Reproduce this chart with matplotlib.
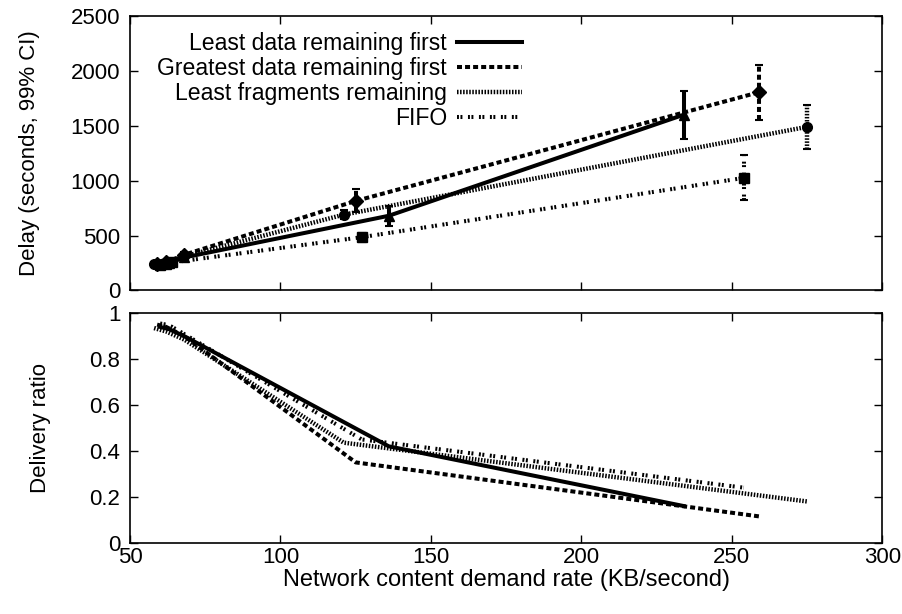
import matplotlib
matplotlib.use("Agg")
import matplotlib.pyplot as plt
from matplotlib.lines import Line2D

plt.rcParams['font.family'] = ['Liberation Sans', 'DejaVu Sans']
plt.rcParams['font.size'] = 16
plt.rcParams['lines.scale_dashes'] = False

names = ["Least data remaining first", "Greatest data remaining first",
         "Least fragments remaining", "FIFO"]

# demand rate (KB/s) for each scheduling policy
rate_least = [60, 63, 68, 136, 234]
rate_great = [59, 62, 68, 125, 259]
rate_frag = [58, 62, 68, 121, 275]
rate_fifo = [60, 62, 64, 127, 254]

# delay (s) and 99% CI half widths
delay_least = [245, 250, 300, 680, 1600]
err_least = [15, 15, 20, 90, 220]
delay_great = [240, 255, 325, 815, 1805]
err_great = [15, 15, 25, 105, 250]
delay_frag = [240, 250, 310, 690, 1490]
err_frag = [15, 15, 20, 40, 200]
delay_fifo = [230, 240, 255, 485, 1025]
err_fifo = [15, 15, 15, 40, 205]

# delivery ratio
ratio_least = [0.94, 0.93, 0.90, 0.42, 0.16]
ratio_great = [0.95, 0.94, 0.90, 0.35, 0.115]
ratio_frag = [0.935, 0.92, 0.885, 0.436, 0.18]
ratio_fifo = [0.955, 0.95, 0.94, 0.45, 0.24]

styles = [
    dict(ls='-', lw=2.9, marker='^', ms=7),
    dict(ls=(0, (3.6, 2.2)), lw=2.9, marker='D', ms=7),
    dict(ls=(0, (1.1, 1.1)), lw=3.2, marker='o', ms=7),
    dict(ls=(0, (1.4, 1.1, 1.4, 4.0)), lw=2.9, marker='s', ms=7),
]

fig = plt.figure(figsize=(9.03, 6.14), dpi=100)
ax1 = fig.add_axes([0.144, 0.527, 0.833, 0.447])
ax2 = fig.add_axes([0.144, 0.116, 0.833, 0.374])

series = [
    (rate_least, delay_least, err_least, ratio_least),
    (rate_great, delay_great, err_great, ratio_great),
    (rate_frag, delay_frag, err_frag, ratio_frag),
    (rate_fifo, delay_fifo, err_fifo, ratio_fifo),
]

for (x, d, e, r), st, name in zip(series, styles, names):
    eb = ax1.errorbar(x, d, yerr=e, color='black', ls=st['ls'], lw=st['lw'],
                      marker=st['marker'], ms=st['ms'], capsize=3,
                      elinewidth=st['lw'], capthick=1.5, label=name)
    eb[2][0].set_linestyle(st['ls'])
    ax2.plot(x, r, color='black', ls=st['ls'], lw=st['lw'])

for ax in (ax1, ax2):
    ax.set_xlim(50, 300)
    ax.set_xticks([50, 100, 150, 200, 250, 300])
    ax.tick_params(direction='in', length=6, top=True, right=True, width=1, pad=7)
    ax.tick_params(axis='x', pad=3)
    for s in ax.spines.values():
        s.set_linewidth(1.2)

ax1.set_ylim(0, 2500)
ax1.set_yticks([0, 500, 1000, 1500, 2000, 2500])
ax1.tick_params(labelbottom=False)
ax1.set_ylabel("Delay (seconds, 99% CI)")
ax1.yaxis.set_label_coords(-0.12, 0.5)

ax2.set_ylim(0, 1)
ax2.set_yticks([0, 0.2, 0.4, 0.6, 0.8, 1])
ax2.set_yticklabels(['0', '0.2', '0.4', '0.6', '0.8', '1'])
ax2.set_ylabel("Delivery ratio")
ax2.yaxis.set_label_coords(-0.105, 0.5)
ax2.set_xlabel("Network content demand rate (KB/second)", fontsize=17, labelpad=1)

leg_handles = [Line2D([], [], color='black', ls=st['ls'], lw=st['lw']) for st in styles]
ax1.legend(leg_handles, names, loc='upper right', bbox_to_anchor=(0.521, 0.94),
           frameon=False, markerfirst=False, borderpad=0, borderaxespad=0,
           handlelength=2.8, handletextpad=0.45, labelspacing=0.08, fontsize=16.6)

fig.savefig("out.png", dpi=100)
